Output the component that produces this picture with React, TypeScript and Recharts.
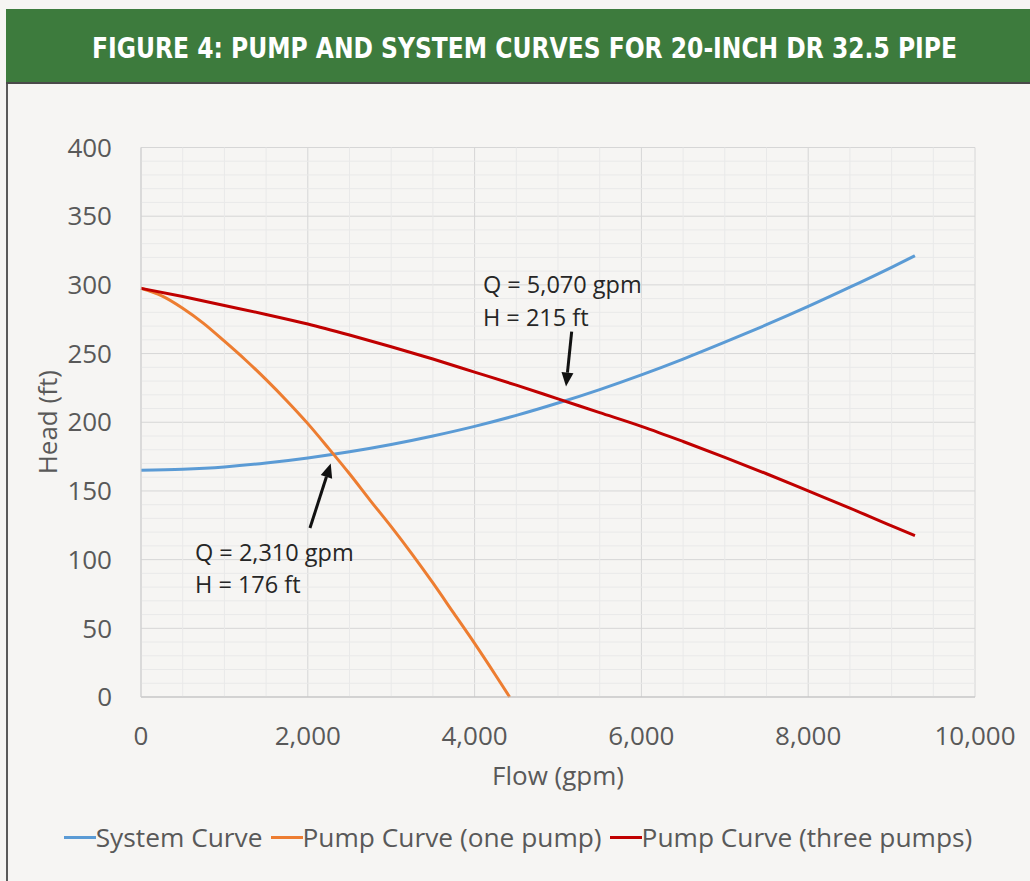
import { LineChart, Line, XAxis, YAxis, CartesianGrid, ReferenceLine, ReferenceDot, Legend } from 'recharts'

// flow (gpm) / head (ft)
const SYSTEM_Q = [0, 500, 1000, 1500, 2000, 2500, 3000, 3500, 4000, 4500, 5000, 5500, 6000, 6500, 7000, 7500, 8000, 8500, 9000, 9280]
const SYSTEM_H = [165, 165.8, 167.5, 170.3, 174, 178.5, 183.8, 190, 197, 205, 214, 223.8, 234.5, 246, 258.3, 271, 284.3, 298.3, 312.8, 321.2]

const ONE_PUMP_Q = [0, 250, 500, 750, 1000, 1250, 1500, 1750, 2000, 2250, 2500, 2750, 3000, 3250, 3500, 3750, 4000, 4250, 4420]
const ONE_PUMP_H = [297.5, 292, 283, 272, 259, 245.5, 231, 215.5, 199, 181, 162.5, 143, 124, 104, 83, 61, 39, 16, 0]

const THREE_PUMP_Q = [0, 500, 1000, 1500, 2000, 2500, 3000, 3500, 4000, 4500, 5000, 5500, 6000, 6500, 7000, 7500, 8000, 8500, 9000, 9280]
const THREE_PUMP_H = [297.5, 291.5, 285, 278.5, 271.5, 263.5, 255, 246, 236.5, 227, 217, 207, 197, 186, 174.5, 162.5, 150, 137.5, 124.5, 117.5]

const SERIES_NAMES = ['System Curve', 'Pump Curve (one pump)', 'Pump Curve (three pumps)']

const X_TICKS = [0, 2000, 4000, 6000, 8000, 10000]
const Y_TICKS = [0, 50, 100, 150, 200, 250, 300, 350, 400]
const X_MINOR = Array.from({ length: 21 }, (_, i) => i * 500).filter((v) => v % 2000 !== 0)
const Y_MINOR = Array.from({ length: 41 }, (_, i) => i * 10).filter((v) => v % 50 !== 0)

const BLUE = '#5b9bd5'
const ORANGE = '#ed7d31'
const RED = '#c00000'
const TEXT = '#595959'
const FONT = '"Open Sans", "Noto Sans", sans-serif'

const toPoints = (qs: number[], hs: number[]) => qs.map((q, i) => ({ q, h: hs[i] }))

const systemData = toPoints(SYSTEM_Q, SYSTEM_H)
const onePumpData = toPoints(ONE_PUMP_Q, ONE_PUMP_H)
const threePumpData = toPoints(THREE_PUMP_Q, THREE_PUMP_H)

// operating points annotations
const NOTES = [
  { q: 4100, h: 294, text: 'Q = 5,070 gpm' },
  { q: 4100, h: 270, text: 'H = 215 ft' },
  { q: 647, h: 99, text: 'Q = 2,310 gpm' },
  { q: 647, h: 75.5, text: 'H = 176 ft' },
]
const ARROWS = [
  { from: { x: 5164, y: 266 }, to: { x: 5096, y: 226 } },
  { from: { x: 2026, y: 123 }, to: { x: 2275, y: 170 } },
]

function Arrow(props: any) {
  const { x1, y1, x2, y2 } = props
  const ang = Math.atan2(y2 - y1, x2 - x1)
  const len = 14
  const half = 6
  const bx = x2 - len * Math.cos(ang)
  const by = y2 - len * Math.sin(ang)
  const px = -Math.sin(ang) * half
  const py = Math.cos(ang) * half
  return (
    <g>
      <line x1={x1} y1={y1} x2={bx} y2={by} stroke="#111" strokeWidth={3} />
      <polygon points={`${x2},${y2} ${bx + px},${by + py} ${bx - px},${by - py}`} fill="#111" />
    </g>
  )
}

function LegendRow({ payload }: any) {
  // keep the series order of the original, not the alphabetical one
  const items = [...(payload || [])].sort((a: any, b: any) => SERIES_NAMES.indexOf(a.value) - SERIES_NAMES.indexOf(b.value))
  return (
    <div style={{ display: 'flex', justifyContent: 'center', alignItems: 'center', fontFamily: FONT, fontSize: 26.3, color: TEXT, whiteSpace: 'nowrap' }}>
      {items.map((entry: any) => (
        <span key={entry.value} style={{ display: 'flex', alignItems: 'center', marginRight: 8 }}>
          <span style={{ display: 'inline-block', width: 32, height: 3, background: entry.color }} />
          <span>{entry.value}</span>
        </span>
      ))}
    </div>
  )
}

export default function App() {
  return (
    <div style={{ position: 'absolute', left: 0, top: 0, width: 1030, height: 881, background: '#f6f5f3', overflow: 'hidden' }}>
      <div style={{ position: 'absolute', left: 6, top: 9, width: 1024, height: 872, borderLeft: '2px solid #5a5a5a', boxSizing: 'border-box' }} />
      <div style={{ position: 'absolute', left: 6, top: 9, width: 1024, height: 73, background: '#3d7b3d', borderBottom: '2px solid #4a4a4a' }}>
        <svg width={1024} height={73}>
          <text
            x={518.5}
            y={49}
            textAnchor="middle"
            fill="#ffffff"
            fontFamily='"DejaVu Sans Condensed", "Liberation Sans Narrow", sans-serif'
            fontWeight="bold"
            fontSize={28}
            textLength={865}
            lengthAdjust="spacingAndGlyphs"
          >
            FIGURE 4: PUMP AND SYSTEM CURVES FOR 20-INCH DR 32.5 PIPE
          </text>
        </svg>
      </div>

      <div style={{ position: 'absolute', left: 0, top: 100 }}>
        <LineChart width={1030} height={700} margin={{ top: 47.5, right: 55, bottom: 43, left: 0 }}>
          {X_MINOR.map((v) => (
            <ReferenceLine key={'mx' + v} x={v} stroke="#e9e9e9" strokeWidth={1} />
          ))}
          {Y_MINOR.map((v) => (
            <ReferenceLine key={'my' + v} y={v} stroke="#e9e9e9" strokeWidth={1} />
          ))}
          <CartesianGrid stroke="#d6d6d6" />
          <XAxis
            type="number"
            dataKey="q"
            domain={[0, 10000]}
            ticks={X_TICKS}
            height={60}
            tickLine={false}
            tickSize={6}
            tickMargin={24}
            axisLine={{ stroke: '#bfbfbf' }}
            tick={{ fill: TEXT, fontSize: 26, fontFamily: FONT }}
            tickFormatter={(v: number) => v.toLocaleString('en-US')}
            label={{ value: 'Flow (gpm)', position: 'bottom', offset: 10, fill: TEXT, fontSize: 26, fontFamily: FONT }}
          />
          <YAxis
            type="number"
            dataKey="h"
            domain={[0, 400]}
            ticks={Y_TICKS}
            width={141}
            tickLine={false}
            tickSize={6}
            tickMargin={23}
            axisLine={{ stroke: '#cfcfcf' }}
            tick={{ fill: TEXT, fontSize: 26, fontFamily: FONT }}
            label={{ value: 'Head (ft)', angle: -90, position: 'insideLeft', offset: 48, fill: TEXT, fontSize: 26, fontFamily: FONT, style: { textAnchor: 'middle' } }}
          />
          <Line data={systemData} dataKey="h" name={SERIES_NAMES[0]} type="monotone" stroke={BLUE} strokeWidth={3} dot={false} isAnimationActive={false} />
          <Line data={onePumpData} dataKey="h" name={SERIES_NAMES[1]} type="monotone" stroke={ORANGE} strokeWidth={3} dot={false} isAnimationActive={false} />
          <Line data={threePumpData} dataKey="h" name={SERIES_NAMES[2]} type="monotone" stroke={RED} strokeWidth={3} dot={false} isAnimationActive={false} />
          {ARROWS.map((a, i) => (
            <ReferenceLine key={'arrow' + i} segment={[a.from, a.to]} shape={Arrow} />
          ))}
          {NOTES.map((n) => (
            <ReferenceDot
              key={n.text}
              x={n.q}
              y={n.h}
              r={0}
              shape={(p: any) => (
                <text x={p.cx} y={p.cy} fill="#262626" fontSize={23.5} fontFamily={FONT}>
                  {n.text}
                </text>
              )}
            />
          ))}
          <Legend
            verticalAlign="middle"
            align="center"
            content={LegendRow}
            wrapperStyle={{ top: 719, left: 0, width: 1044 }}
          />
        </LineChart>
      </div>
    </div>
  )
}
